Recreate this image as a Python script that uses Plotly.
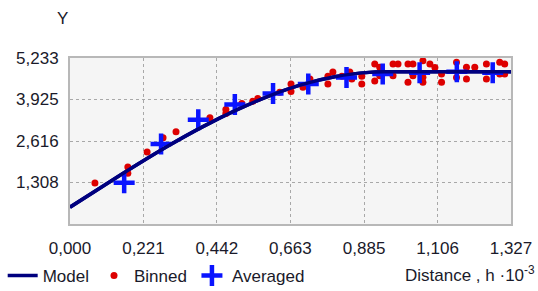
import plotly.graph_objects as go

# ---- data ----
model_x = [0.0, 0.1, 0.2, 0.3, 0.4, 0.5, 0.6, 0.7, 0.8, 0.9, 0.95, 1.0, 1.1, 1.2, 1.327]
model_y = [0.53, 1.20, 1.86, 2.49, 3.07, 3.59, 4.04, 4.40, 4.65, 4.78, 4.80, 4.80, 4.80, 4.80, 4.80]

binned_x = [0.075, 0.174, 0.174, 0.232, 0.280, 0.319, 0.421, 0.469, 0.469, 0.517,
            0.550, 0.565, 0.631, 0.665, 0.665, 0.701, 0.722, 0.776, 0.776, 0.791,
            0.818, 0.842, 0.848, 0.878, 0.878, 0.917, 0.917, 0.932, 0.932, 0.972,
            0.972, 0.987, 1.017, 1.017, 1.032, 1.032, 1.062, 1.062, 1.062, 1.083,
            1.098, 1.118, 1.118, 1.118, 1.163, 1.163, 1.193, 1.193, 1.193, 1.218,
            1.218, 1.253, 1.253, 1.293, 1.293, 1.308, 1.308]
binned_y = [1.29, 1.80, 1.60, 2.27, 2.72, 2.91, 3.35, 3.61, 3.48, 3.80,
            3.87, 3.96, 4.15, 4.18, 4.41, 4.31, 4.57, 4.66, 4.41, 4.79,
            4.66, 4.79, 4.57, 4.66, 4.41, 5.04, 4.51, 4.94, 4.67, 5.04,
            4.67, 5.04, 5.04, 4.47, 5.04, 4.67, 5.15, 4.63, 4.47, 5.04,
            4.93, 5.26, 4.73, 4.47, 5.10, 4.62, 5.26, 4.94, 4.57, 5.26,
            4.94, 5.04, 4.57, 5.10, 4.73, 5.04, 4.73]

avg_x = [0.163, 0.274, 0.386, 0.496, 0.611, 0.717, 0.832, 0.941, 1.052, 1.164, 1.272]
avg_y = [1.30, 2.52, 3.29, 3.77, 4.11, 4.41, 4.62, 4.73, 4.77, 4.80, 4.77]

x_ticks = [0.0, 0.221, 0.442, 0.663, 0.885, 1.106, 1.327]
x_tick_labels = ["0,000", "0,221", "0,442", "0,663", "0,885", "1,106", "1,327"]
y_ticks = [1.308, 2.616, 3.925, 5.233]
y_tick_labels = ["1,308", "2,616", "3,925", "5,233"]

FONT = "Liberation Sans, Arial, sans-serif"
W, H = 538, 291

fig = go.Figure()
fig.add_trace(go.Scatter(x=model_x, y=model_y, mode="lines", name="Model",
                         line=dict(color="#00007f", width=3.5, shape="spline")))
fig.add_trace(go.Scatter(x=binned_x, y=binned_y, mode="markers", name="Binned",
                         marker=dict(color="#dd0000", size=7, symbol="circle"),
                         cliponaxis=False))
fig.add_trace(go.Scatter(x=avg_x, y=avg_y, mode="markers", name="Averaged",
                         marker=dict(color="#0a14ff", size=15, symbol="cross-thin",
                                     line=dict(color="#0a14ff", width=4.5)),
                         cliponaxis=False))
fig.add_trace(go.Scatter(x=model_x, y=model_y, mode="lines", showlegend=False,
                         line=dict(color="#00007f", width=3.5, shape="spline"),
                         hoverinfo="skip"))

fig.update_layout(
    width=W, height=H,
    margin=dict(l=70, r=27, t=58, b=67, autoexpand=False),
    paper_bgcolor="white", plot_bgcolor="#f5f5f5",
    font=dict(family=FONT, size=17, color="#1a1a2a"),
    showlegend=True,
    legend=dict(orientation="h", xref="container", yref="container",
                x=0.005, xanchor="left", y=1 - 276 / H, yanchor="middle",
                font=dict(size=17), itemwidth=30, bgcolor="rgba(0,0,0,0)"),
    xaxis=dict(range=[0, 1.327], tickvals=x_ticks, ticktext=x_tick_labels,
               showgrid=True, gridcolor="#a8a8a8", griddash="dot", gridwidth=1,
               showline=True, linecolor="#b8b8b8", linewidth=2, mirror=True,
               zeroline=False, ticks="", ticklabelstandoff=8, automargin=False),
    yaxis=dict(range=[0, 5.233], tickvals=y_ticks, ticktext=y_tick_labels,
               showgrid=True, gridcolor="#a8a8a8", griddash="dot", gridwidth=1,
               showline=True, linecolor="#b8b8b8", linewidth=2, mirror=True,
               zeroline=False, ticks="", ticklabelstandoff=6, automargin=False),
    annotations=[
        dict(text="Y", xref="paper", yref="paper", x=-0.018, y=1.24,
             xanchor="center", yanchor="middle", showarrow=False,
             font=dict(size=17)),
        dict(text="Distance , h ·10<sup>-3</sup>", xref="paper", yref="paper",
             x=1.059, y=-0.30, xanchor="right", yanchor="middle", showarrow=False,
             font=dict(size=17)),
    ],
)

fig.write_html("out.html", config={"displayModeBar": False},
               post_script="document.body.style.margin='0';document.body.style.overflow='hidden';")
